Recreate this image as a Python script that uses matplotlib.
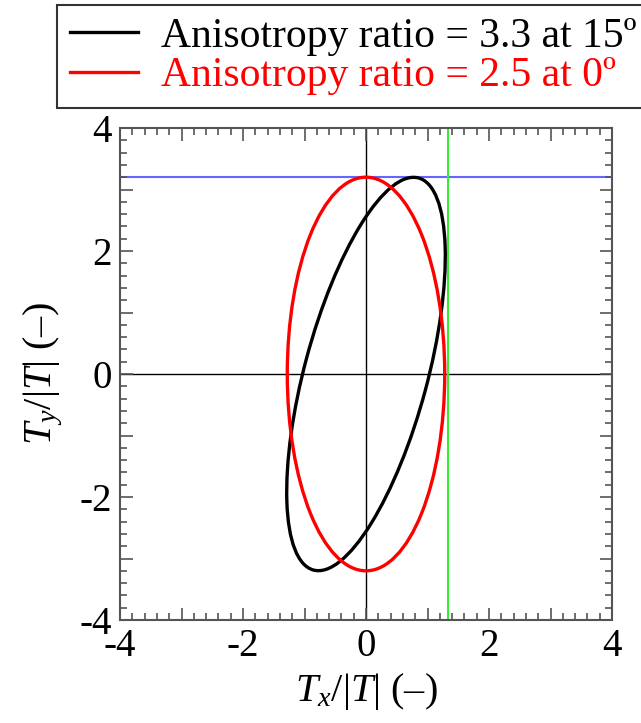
import numpy as np
import matplotlib.pyplot as plt
from matplotlib.patches import Ellipse
from matplotlib.lines import Line2D
from matplotlib.ticker import MultipleLocator, FuncFormatter

plt.rcParams['font.family'] = ['Liberation Serif', 'DejaVu Serif']
plt.rcParams['mathtext.fontset'] = 'custom'
plt.rcParams['mathtext.rm'] = 'Liberation Serif'
plt.rcParams['mathtext.it'] = 'Liberation Serif:italic'
plt.rcParams['mathtext.bf'] = 'Liberation Serif:bold'

# traction ellipses: minor semi-axis, anisotropy ratio, tilt of major axis from vertical (deg)
labels = ["Anisotropy ratio = 3.3 at 15º", "Anisotropy ratio = 2.5 at 0º"]
colors = ["black", "red"]
minor_axis = [1.0, 1.28]
aniso_ratio = [3.3, 2.5]
tilt_deg = [15, 0]

# bounding lines
ymax_line = 3.21
xmax_line = 1.33

fig = plt.figure(figsize=(6.41, 7.23), dpi=100)
ax = fig.add_axes([120 / 641, 1 - 620 / 723, 492 / 641, 492 / 723])

ax.axhline(0, color="black", lw=1.0, zorder=1)
ax.axvline(0, color="black", lw=1.0, zorder=1)
ax.axhline(ymax_line, color="#6666ff", lw=1.5, zorder=1)
ax.axvline(xmax_line, color="#33ee33", lw=1.5, zorder=1)

handles = []
for a, r, t, c, lab in zip(minor_axis, aniso_ratio, tilt_deg, colors, labels):
    e = Ellipse((0, 0), width=2 * a, height=2 * a * r, angle=-t,
                fill=False, edgecolor=c, lw=2.4, zorder=3)
    ax.add_patch(e)
    handles.append(Line2D([], [], color=c, lw=2.4, label=lab))

ax.set_xlim(-4, 4)
ax.set_ylim(-4, 4)

for axis in (ax.xaxis, ax.yaxis):
    axis.set_major_locator(MultipleLocator(1))
    axis.set_minor_locator(MultipleLocator(0.2))
    axis.set_major_formatter(FuncFormatter(
        lambda v, p: "%d" % round(v) if round(v) % 2 == 0 else ""))

ax.tick_params(which="both", direction="in", top=True, right=True,
               color="#555555", labelsize=28, pad=6)
ax.tick_params(which="major", length=9, width=1.2)
ax.tick_params(which="minor", length=5, width=1.2)
for s in ax.spines.values():
    s.set_color("#555555")
    s.set_linewidth(1.5)

ax.set_xlabel(r"$T_x/|T|$ (–)", fontsize=29, labelpad=4)
ax.set_ylabel(r"$T_y/|T|$ (–)", fontsize=29, labelpad=10)

leg = fig.legend(handles=handles, loc="upper center", bbox_to_anchor=(0.551, 0.993),
                 fontsize=30, frameon=True, fancybox=False, edgecolor="black",
                 handlelength=1.65, handletextpad=0.55, borderpad=0.3,
                 labelspacing=0.02, borderaxespad=0)
leg.get_frame().set_linewidth(1.5)
for txt, c in zip(leg.get_texts(), colors):
    txt.set_color(c)

fig.savefig("out.png", dpi=100)
